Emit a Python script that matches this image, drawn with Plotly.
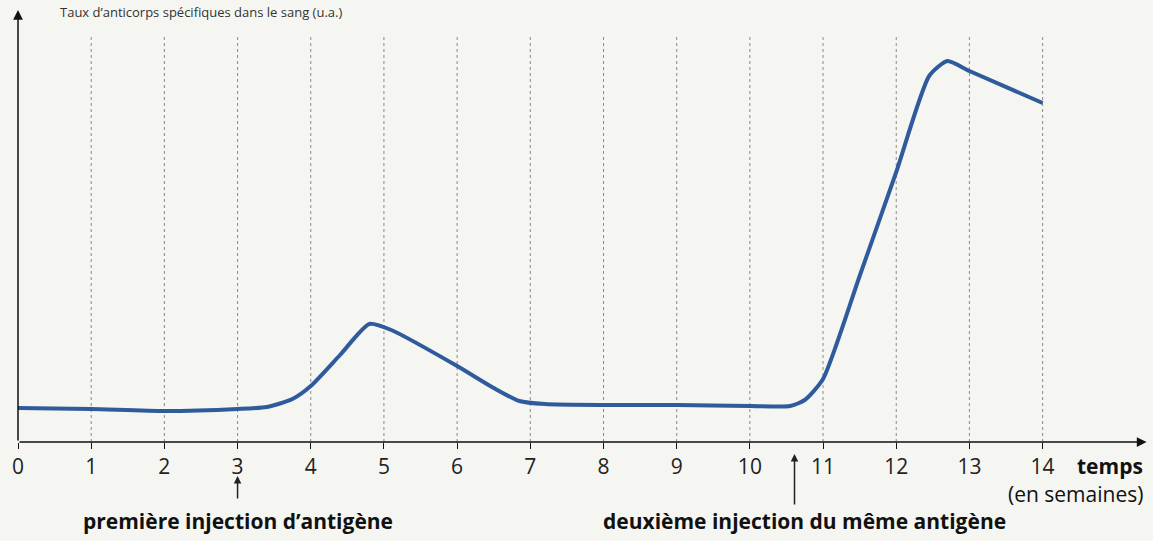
import plotly.graph_objects as go

# Data (arbitrary units)
weeks = [0, 1, 2, 3, 3.4, 3.75, 4.0, 4.4, 4.8, 5.1, 6.0, 6.5, 6.85, 7.2, 8, 9, 10, 10.55, 10.75, 11.0, 11.5, 12.0, 12.45, 12.7, 13, 14]
anticorps = [34, 33, 31, 33, 35, 43, 56, 87, 118, 112, 76, 54, 41, 38, 37, 37, 36, 36, 42, 63, 166, 270, 366, 381, 371, 339]
tick_vals = list(range(0, 15))
tick_text = [str(v) for v in tick_vals]
injections = [3, 10.61]
injection_labels = ["première injection d’antigène", "deuxième injection du même antigène"]
y_title = "Taux d’anticorps spécifiques dans le sang (u.a.)"

BG = "#f5f6f2"
FONT = "Open Sans, Noto Sans, sans-serif"

fig = go.Figure()
fig.add_trace(go.Scatter(
    x=weeks, y=anticorps, mode="lines",
    line=dict(color="#2f5b9c", width=4, shape="spline", smoothing=0.6),
    hoverinfo="skip", showlegend=False,
))

shapes = []
for v in tick_vals[1:]:
    shapes.append(dict(type="line", xref="x", yref="y", x0=v, x1=v, y0=0, y1=407,
                       line=dict(color="#8a8a8a", width=1, dash="3px,3px"), layer="below"))

annotations = []
# x axis with arrow
annotations.append(dict(x=15.42, y=0, ax=0, ay=0, xref="x", yref="y", axref="x", ayref="y",
                        showarrow=True, arrowhead=2, arrowsize=1.3, arrowwidth=1.5, arrowcolor="#111", text=""))
# y axis with arrow
annotations.append(dict(x=0, y=432, ax=0, ay=0, xref="x", yref="y", axref="x", ayref="y",
                        showarrow=True, arrowhead=2, arrowsize=1.3, arrowwidth=1.5, arrowcolor="#111", text=""))
# y axis title at top
annotations.append(dict(x=0.0, y=1.0, xref="paper", yref="paper", xanchor="left", yanchor="top",
                        yshift=7, xshift=40, text=y_title,
                        showarrow=False, font=dict(family=FONT, size=13, color="#333")))
annotations.append(dict(x=1.0, y=0, xref="paper", yref="y", xanchor="right", yanchor="top",
                        yshift=-8, xshift=-3, text="<b>temps</b>", showarrow=False,
                        font=dict(family=FONT, size=21, color="#111")))
annotations.append(dict(x=1.0, y=0, xref="paper", yref="y", xanchor="right", yanchor="top",
                        yshift=-36, xshift=-3, text="(en semaines)", showarrow=False,
                        font=dict(family=FONT, size=21, color="#111")))
# injection arrows
arrow_tips = [-34, -12]
arrow_tails = [-58, -64]
for xv, tip, tail in zip(injections, arrow_tips, arrow_tails):
    annotations.append(dict(x=xv, y=0, xref="x", yref="y", yshift=tip, ax=0, ay=tip - tail,
                            showarrow=True, arrowhead=2, arrowsize=1, arrowwidth=1.5,
                            arrowcolor="#222", text=""))
annotations.append(dict(x=3, y=0, xref="x", yref="y", xanchor="center", yanchor="top", yshift=-63,
                        text="<b>" + injection_labels[0] + "</b>", showarrow=False,
                        font=dict(family=FONT, size=21, color="#111")))
annotations.append(dict(x=10.74, y=0, xref="x", yref="y", xanchor="center", yanchor="top", yshift=-63,
                        text="<b>" + injection_labels[1] + "</b>", showarrow=False,
                        font=dict(family=FONT, size=21, color="#111")))

fig.update_layout(
    width=1153, height=541,
    margin=dict(l=18, r=5, t=8, b=99),
    paper_bgcolor=BG, plot_bgcolor=BG,
    xaxis=dict(range=[0, 15.44], tickvals=tick_vals, ticktext=tick_text, ticks="outside",
               ticklen=6, tickcolor="#111", tickwidth=1.2, showgrid=False, zeroline=False,
               showline=False, tickfont=dict(family=FONT, size=21, color="#222"), fixedrange=True),
    yaxis=dict(range=[0, 434], showticklabels=False, showgrid=False, zeroline=False,
               showline=False, ticks="", fixedrange=True),
    shapes=shapes, annotations=annotations,
)

fig.write_html("out.html", config={"displayModeBar": False},
               post_script="document.body.style.margin='0';document.body.style.overflow='hidden';document.body.style.background='" + BG + "';")
